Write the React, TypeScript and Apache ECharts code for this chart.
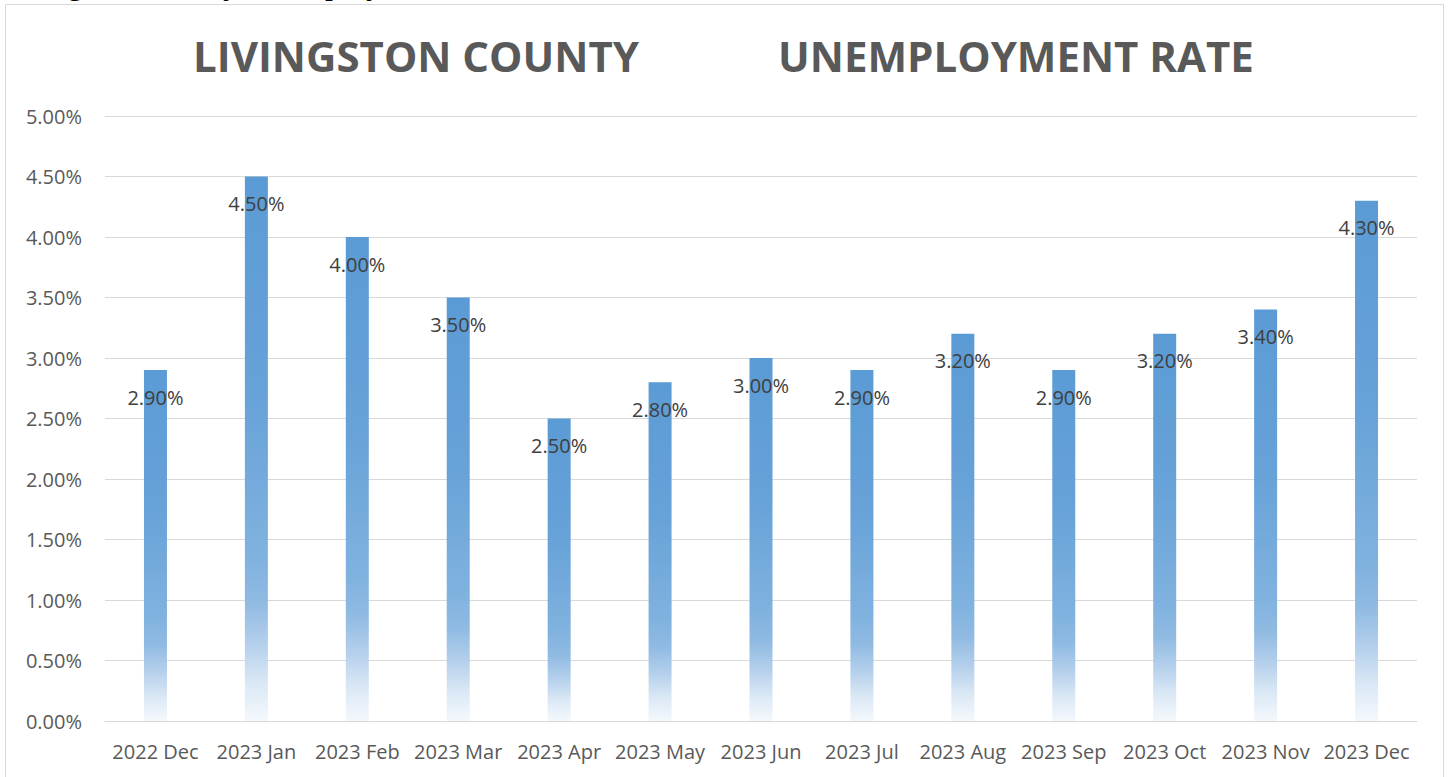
import React, { useEffect, useRef } from "react";
import * as echarts from "echarts";

const titleLeft = "LIVINGSTON COUNTY";
const titleRight = "UNEMPLOYMENT RATE";
const pageText = "Livingston County Unemployment Rate";

const categories = [
  "2022 Dec", "2023 Jan", "2023 Feb", "2023 Mar", "2023 Apr", "2023 May", "2023 Jun",
  "2023 Jul", "2023 Aug", "2023 Sep", "2023 Oct", "2023 Nov", "2023 Dec",
];
const rates = [2.9, 4.5, 4.0, 3.5, 2.5, 2.8, 3.0, 2.9, 3.2, 2.9, 3.2, 3.4, 4.3];
const yMin = 0;
const yMax = 5;
const yStep = 0.5;

const FONT = "'Open Sans', 'Noto Sans', sans-serif";

export default function App() {
  const ref = useRef<HTMLDivElement>(null);
  useEffect(() => {
    if (!ref.current) return;
    const chart = echarts.init(ref.current, undefined, { renderer: "svg" });
    const grad = new echarts.graphic.LinearGradient(0, 0, 0, 1, [
      { offset: 0, color: "#5B9BD5" },
      { offset: 0.4, color: "#67A2D8" },
      { offset: 0.7, color: "#80B2DF" },
      { offset: 0.78, color: "#8FBAE2" },
      { offset: 0.86, color: "#B5D0EC" },
      { offset: 0.93, color: "#DAE8F5" },
      { offset: 1, color: "#F4F8FC" },
    ]);
    chart.setOption({
      animation: false,
      backgroundColor: "#ffffff",
      textStyle: { fontFamily: FONT },
      grid: { left: 105, right: 32, top: 116, bottom: 56, containLabel: false },
      graphic: [
        {
          type: "rect",
          shape: { x: 5.5, y: 4.5, width: 1438, height: 800 },
          style: { fill: "none", stroke: "#D9D9D9", lineWidth: 1 },
          silent: true,
        },
        {
          type: "text",
          x: -2,
          y: -17,
          style: {
            text: pageText,
            font: "32px 'Liberation Serif', 'Times New Roman', serif",
            fill: "#000000",
            align: "left",
            verticalAlign: "middle",
          },
          silent: true,
        },
        {
          type: "text",
          x: 416,
          y: 55,
          style: {
            text: titleLeft,
            font: `bold 42px ${FONT}`,
            fill: "#595959",
            align: "center",
            verticalAlign: "middle",
          },
        },
        {
          type: "text",
          x: 1016,
          y: 55,
          style: {
            text: titleRight,
            font: `bold 42px ${FONT}`,
            fill: "#595959",
            align: "center",
            verticalAlign: "middle",
          },
        },
      ],
      xAxis: {
        type: "category",
        data: categories,
        axisLine: { lineStyle: { color: "#D9D9D9", width: 1 } },
        axisTick: { show: false },
        axisLabel: { color: "#595959", fontSize: 20, margin: 20, interval: 0, fontFamily: FONT },
      },
      yAxis: {
        type: "value",
        min: yMin,
        max: yMax,
        interval: yStep,
        axisLine: { show: false },
        axisTick: { show: false },
        splitLine: { lineStyle: { color: "#D9D9D9", width: 1 } },
        axisLabel: {
          color: "#595959",
          fontSize: 20,
          margin: 23,
          fontFamily: FONT,
          formatter: (v: number) => v.toFixed(2) + "%",
        },
      },
      series: [
        {
          type: "bar",
          data: rates,
          barWidth: 23,
          itemStyle: { color: grad },
          label: {
            show: true,
            position: "insideTop",
            distance: 17,
            color: "#404040",
            fontSize: 20,
            fontFamily: FONT,
            formatter: (p: any) => Number(p.value).toFixed(2) + "%",
          },
        },
      ],
    });
    return () => chart.dispose();
  }, []);
  return (
    <div
      ref={ref}
      style={{ position: "fixed", left: 0, top: 0, width: 1449, height: 777, background: "#fff" }}
    />
  );
}
